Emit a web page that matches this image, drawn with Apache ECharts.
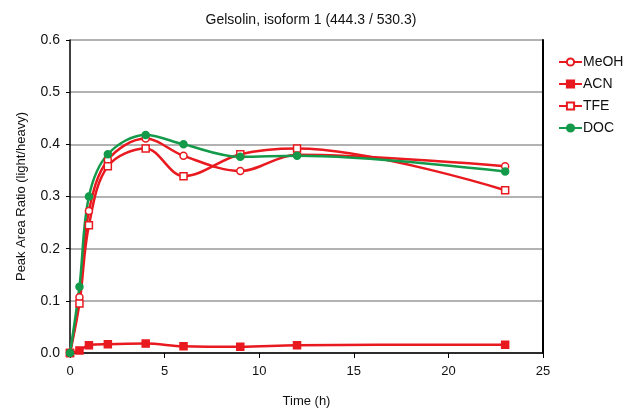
<!DOCTYPE html>
<html><head><meta charset="utf-8">
<script src="https://cdn.jsdelivr.net/npm/echarts@6/dist/echarts.min.js"></script>
<style>html,body{margin:0;padding:0;background:#fff}#c{width:626px;height:414px}</style>
</head><body><div id="c"></div>
<script>
const times = [0, 0.5, 1, 2, 4, 6, 9, 12, 23];
const meoh = [0, 0.107, 0.272, 0.370, 0.411, 0.378, 0.349, 0.380, 0.358];
const acn  = [0, 0.005, 0.015, 0.017, 0.018, 0.013, 0.012, 0.015, 0.016];
const tfe  = [0, 0.095, 0.245, 0.358, 0.392, 0.339, 0.381, 0.392, 0.312];
const doc  = [0, 0.127, 0.300, 0.381, 0.418, 0.400, 0.376, 0.378, 0.348];
const yTicks = ['0.0','0.1','0.2','0.3','0.4','0.5','0.6'];

const RED = '#e8191f', GREEN = '#139a4a';
const font = 'Liberation Sans, Arial, sans-serif';
function pts(v){ return times.map((t,i)=>[t,v[i]]); }
function ser(name, data, color, symbol, fill){
  return {name, type:'line', data:pts(data), smooth:0.35, symbol, symbolSize:7,
    lineStyle:{color, width:2.5}, itemStyle:{color: fill||color, borderColor:color, borderWidth:1.5},
    emphasis:{disabled:true}};
}
const chart = echarts.init(document.getElementById('c'));
chart.setOption({
  animation:false,
  textStyle:{fontFamily:font},
  title:{text:'Gelsolin, isoform 1 (444.3 / 530.3)', left:306, top:8, textAlign:'center',
    textStyle:{fontSize:14, fontWeight:'normal', color:'#111', fontFamily:font}},
  legend:{orient:'vertical', left:553, top:50, itemGap:8, itemWidth:23, itemHeight:9,
    textStyle:{fontSize:14, color:'#111', fontFamily:font, padding:[0,0,0,-4]},
    data:['MeOH','ACN','TFE','DOC']},
  grid:{left:70, right:83, top:40, bottom:61, containLabel:false},
  xAxis:{type:'value', min:0, max:25, interval:5, name:'Time (h)', nameLocation:'middle', nameGap:42,
    nameTextStyle:{fontSize:13, color:'#111'},
    axisLine:{show:true, lineStyle:{color:'#000', width:1.5}}, axisTick:{show:true, length:5, lineStyle:{color:'#000'}},
    axisLabel:{fontSize:13, color:'#111', margin:12}, splitLine:{show:false}},
  yAxis:[{type:'value', min:0, max:0.6, interval:0.1, name:'Peak Area Ratio (light/heavy)', nameLocation:'middle', nameGap:42,
    nameTextStyle:{fontSize:13, color:'#111'},
    axisLine:{show:true, lineStyle:{color:'#000', width:1.5}}, axisTick:{show:true, length:4, lineStyle:{color:'#000'}},
    axisLabel:{fontSize:14, color:'#111', margin:10, formatter:(v)=>yTicks[Math.round(v*10)]},
    splitLine:{show:true, lineStyle:{color:'#999', width:1.5}}},
   {type:'value', min:0, max:0.6, interval:0.1, position:'right',
    axisLine:{show:true, lineStyle:{color:'#000', width:2}}, axisTick:{show:false}, axisLabel:{show:false}, splitLine:{show:false}}],
  series:[
    ser('MeOH', meoh, RED, 'circle', '#fff'),
    ser('ACN', acn, RED, 'rect'),
    ser('TFE', tfe, RED, 'rect', '#fff'),
    ser('DOC', doc, GREEN, 'circle')
  ]
});
</script></body></html>
